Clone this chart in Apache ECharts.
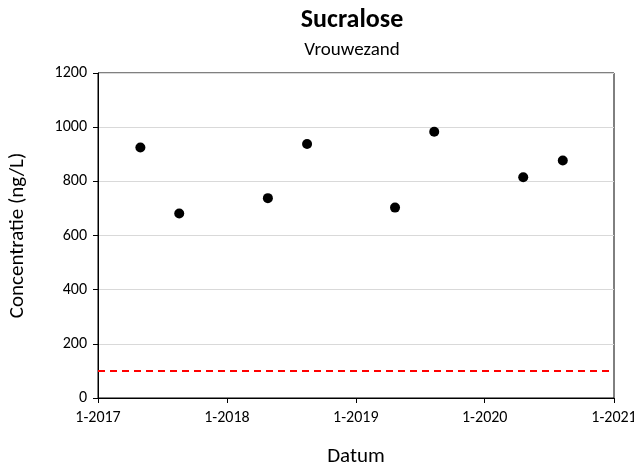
<!DOCTYPE html>
<html><head><meta charset="utf-8">
<script src="https://cdn.jsdelivr.net/npm/echarts@6/dist/echarts.min.js"></script>
<style>html,body{margin:0;padding:0;background:#fff}#c{width:634px;height:473px}</style>
</head><body><div id="c"></div>
<script>
const dates = ['2017-05-01','2017-08-19','2018-04-27','2018-08-16','2019-04-22','2019-08-11','2020-04-19','2020-08-09'];
const values = [925, 681, 738, 938, 703, 983, 815, 877];
const limitValue = 100;
const yTicks = [0, 200, 400, 600, 800, 1000, 1200];
const xRange = ['2017-01-01', '2021-01-01'];

const F = 'Carlito, Lato, "Open Sans", sans-serif';
const chart = echarts.init(document.getElementById('c'), null, {renderer:'canvas'});
chart.setOption({
  animation:false,
  backgroundColor:'#fff',
  title:[
    {text:'Sucralose', left:347, top:2, textAlign:'center', textStyle:{fontFamily:F, fontSize:26, fontWeight:'bold', color:'#000'}},
    {text:'Vrouwezand', left:347, top:36, textAlign:'center', textStyle:{fontFamily:F, fontSize:19, fontWeight:'normal', color:'#000'}}
  ],
  grid:{left:98, right:20, top:73, bottom:75, show:true, borderColor:'#000', borderWidth:1, outerBoundsMode:'none', containLabel:false},
  xAxis:{
    type:'time',
    min:new Date(xRange[0]).getTime(),
    max:new Date(xRange[1]).getTime(),
    splitNumber:4,
    name:'Datum', nameLocation:'middle', nameGap:48,
    nameTextStyle:{fontFamily:F, fontSize:21, color:'#000'},
    axisLine:{show:true, lineStyle:{color:'#000', width:1}},
    axisTick:{show:true, inside:false, length:5, lineStyle:{color:'#000'}},
    splitLine:{show:false},
    axisLabel:{fontFamily:F, fontSize:16, color:'#000', margin:12, showMinLabel:true, showMaxLabel:true,
      formatter:function(v){ return '1-' + new Date(v).getFullYear(); }}
  },
  yAxis:{
    type:'value', min:yTicks[0], max:yTicks[yTicks.length-1], interval:200,
    name:'Concentratie (ng/L)', nameLocation:'middle', nameGap:70,
    nameTextStyle:{fontFamily:F, fontSize:21, color:'#000'},
    axisLine:{show:true, lineStyle:{color:'#000', width:1}},
    axisTick:{show:true, inside:false, length:5, lineStyle:{color:'#000'}},
    splitLine:{show:true, lineStyle:{color:'#d9d9d9', width:1}},
    axisLabel:{fontFamily:F, fontSize:16, color:'#000', margin:11, formatter:function(v){return String(v);}}
  },
  series:[{
    type:'scatter',
    symbol:'circle', symbolSize:10,
    itemStyle:{color:'#000', opacity:1},
    data:dates.map((d,i)=>[new Date(d).getTime(), values[i]]),
    markLine:{
      silent:true, symbol:'none', label:{show:false},
      lineStyle:{color:'#ff0000', type:[7,5], width:2, opacity:1},
      data:[{yAxis:limitValue}]
    }
  }]
});
</script></body></html>
